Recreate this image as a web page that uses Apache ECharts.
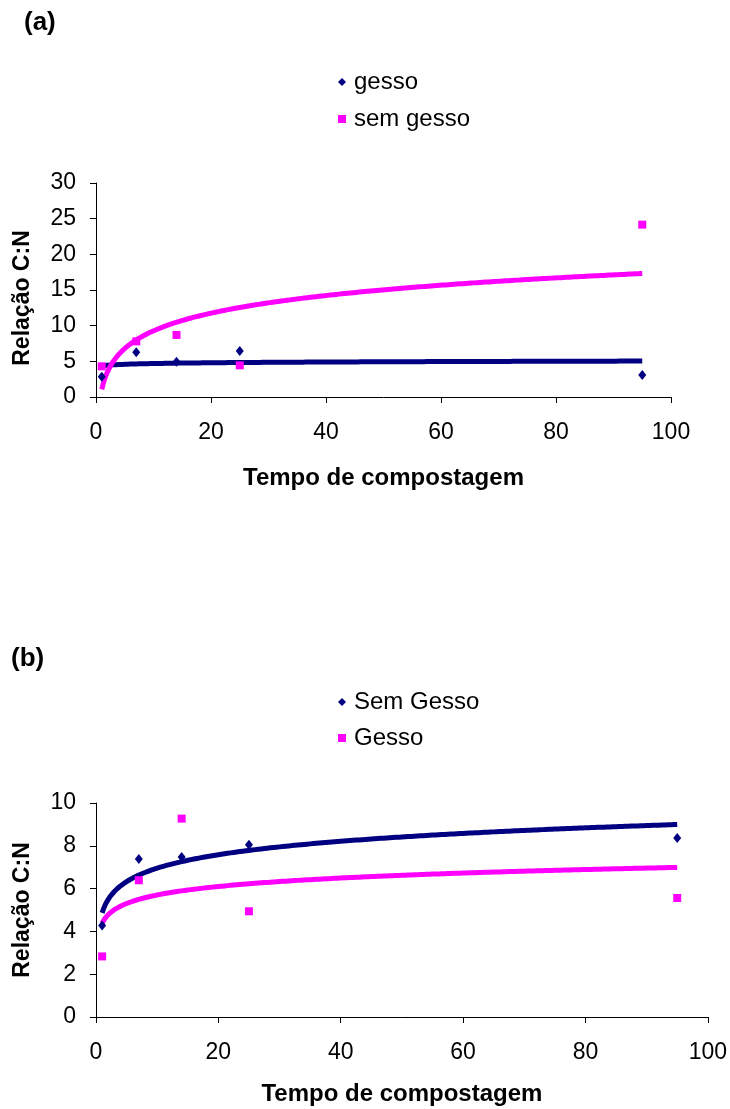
<!DOCTYPE html>
<html>
<head>
<meta charset="utf-8">
<script src="https://cdn.jsdelivr.net/npm/echarts@6/dist/echarts.min.js"></script>
<style>
html,body{margin:0;padding:0;background:#fff;}
#chart{width:730px;height:1109px;}
</style>
</head>
<body>
<div id="chart"></div>
<script>
// ---- data ----
const days = [1, 7, 14, 25, 95];
// panel (a)
const aGesso = [2.85, 6.26, 4.95, 6.45, 3.08];
const aSemGesso = [4.3, 7.8, 8.7, 4.44, 24.16];
// panel (b)
const bSemGesso = [4.27, 7.38, 7.48, 8.05, 8.36];
const bGesso = [2.83, 6.39, 9.27, 4.94, 5.56];
// axis ticks
const xTicks = [0, 20, 40, 60, 80, 100];
const yTicksA = [0, 5, 10, 15, 20, 25, 30];
const yTicksB = [0, 2, 4, 6, 8, 10];

// logarithmic least-squares trendline (as in the original spreadsheet)
function logFit(xs, ys) {
  const n = xs.length;
  const lx = xs.map(Math.log);
  const mx = lx.reduce((s, v) => s + v, 0) / n;
  const my = ys.reduce((s, v) => s + v, 0) / n;
  let sxy = 0, sxx = 0;
  for (let i = 0; i < n; i++) { sxy += (lx[i] - mx) * (ys[i] - my); sxx += (lx[i] - mx) * (lx[i] - mx); }
  const b = sxy / sxx, a = my - b * mx;
  const out = [];
  const x0 = Math.min(...xs), x1 = Math.max(...xs);
  for (let t = x0; t <= x1 + 1e-9; t += 0.25) out.push([t, a + b * Math.log(t)]);
  return out;
}
const pts = ys => days.map((d, i) => [d, ys[i]]);

const NAVY = '#000080', MAG = '#FF00FF';
const FONT = 'Liberation Sans, Arial, sans-serif';

function xAxisCfg(gi, gap) {
  return {
    gridIndex: gi, type: 'value', min: xTicks[0], max: xTicks[xTicks.length - 1], interval: 20,
    name: 'Tempo de compostagem', nameLocation: 'middle', nameGap: gap,
    nameTextStyle: { fontFamily: FONT, fontSize: 24, fontWeight: 'bold', color: '#000' },
    axisLine: { show: true, lineStyle: { color: '#000', width: 1 } },
    axisTick: { show: true, inside: false, length: 6, lineStyle: { color: '#000' } },
    axisLabel: { fontFamily: FONT, fontSize: 23, color: '#000', margin: 24 },
    splitLine: { show: false }
  };
}
function yAxisCfg(gi, ticks) {
  return {
    gridIndex: gi, type: 'value', min: ticks[0], max: ticks[ticks.length - 1], interval: ticks[1] - ticks[0],
    axisLine: { show: true, lineStyle: { color: '#000', width: 1 } },
    axisTick: { show: true, inside: false, length: 6, lineStyle: { color: '#000' } },
    axisLabel: { fontFamily: FONT, fontSize: 23, color: '#000', margin: 20 },
    splitLine: { show: false }
  };
}
function scatter(name, gi, ys, color, symbol, size) {
  return { name, type: 'scatter', xAxisIndex: gi, yAxisIndex: gi, data: pts(ys),
    symbol, symbolSize: size, itemStyle: { color, opacity: 1 }, z: 3 };
}
function trend(gi, ys, color) {
  return { type: 'line', xAxisIndex: gi, yAxisIndex: gi, data: logFit(days, ys),
    showSymbol: false, smooth: false, lineStyle: { color, width: 5, opacity: 1 }, silent: true, z: 2 };
}
function legendCfg(names, top, gap) {
  return {
    orient: 'vertical', left: 333, top, itemGap: gap, itemWidth: 8, itemHeight: 8,
    itemStyle: { opacity: 1 },
    textStyle: { fontFamily: FONT, fontSize: 24, color: '#000', lineHeight: 26, padding: [0, 0, 0, 3] },
    data: names
  };
}
function yTitle(x, y) {
  return { type: 'text', x, y, rotation: Math.PI / 2,
    style: { text: 'Relação C:N', fontFamily: FONT, fontSize: 23, fontWeight: 'bold', fill: '#000',
      align: 'center', verticalAlign: 'middle' } };
}

const chart = echarts.init(document.getElementById('chart'), null, { renderer: 'canvas' });
chart.setOption({
  backgroundColor: '#fff',
  animation: false,
  graphic: [
    { type: 'text', left: 24, top: 10, style: { text: '(a)', fontFamily: FONT, fontSize: 26, fontWeight: 'bold', fill: '#000' } },
    { type: 'text', left: 11, top: 646, style: { text: '(b)', fontFamily: FONT, fontSize: 26, fontWeight: 'bold', fill: '#000' } },
    yTitle(23, 298),
    yTitle(23, 910)
  ],
  legend: [
    legendCfg([{ name: 'gesso', icon: 'diamond' }, { name: 'sem gesso', icon: 'rect' }], 64, 11),
    legendCfg([{ name: 'Sem Gesso', icon: 'diamond' }, { name: 'Gesso', icon: 'rect' }], 684, 10)
  ],
  grid: [
    { left: 96, top: 183, width: 575, height: 214 },
    { left: 96, top: 803, width: 613, height: 214 }
  ],
  xAxis: [xAxisCfg(0, 69), xAxisCfg(1, 65)],
  yAxis: [yAxisCfg(0, yTicksA), yAxisCfg(1, yTicksB)],
  series: [
    trend(0, aGesso, NAVY),
    trend(0, aSemGesso, MAG),
    scatter('gesso', 0, aGesso, NAVY, 'diamond', [8, 10]),
    scatter('sem gesso', 0, aSemGesso, MAG, 'rect', 8),
    trend(1, bSemGesso, NAVY),
    trend(1, bGesso, MAG),
    scatter('Sem Gesso', 1, bSemGesso, NAVY, 'diamond', [8, 10]),
    scatter('Gesso', 1, bGesso, MAG, 'rect', 8)
  ]
});
</script>
</body>
</html>
